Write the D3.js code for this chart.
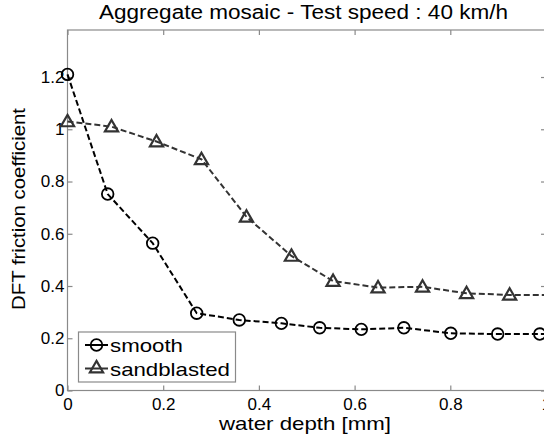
<!DOCTYPE html>
<html><head><meta charset="utf-8">
<script src="https://cdn.jsdelivr.net/npm/d3@7"></script>
<style>body{margin:0;background:#fff;}svg{display:block;font-family:"Liberation Sans",Arial,sans-serif;}</style>
</head><body>
<svg id="c" width="544" height="441"></svg>
<script>
const title = "Aggregate mosaic - Test speed : 40 km/h";
const xLabel = "water depth [mm]";
const yLabel = "DFT friction coefficient";
const xTicks = [0, 0.2, 0.4, 0.6, 0.8, 1];
const xTickLabels = ["0", "0.2", "0.4", "0.6", "0.8", "1"];
const yTicks = [0, 0.2, 0.4, 0.6, 0.8, 1, 1.2];
const yTickLabels = ["0", "0.2", "0.4", "0.6", "0.8", "1", "1.2"];
const smoothX = [0, 0.084, 0.178, 0.27, 0.359, 0.447, 0.527, 0.614, 0.703, 0.801, 0.899, 0.987, 1.08];
const smoothY = [1.21, 0.752, 0.564, 0.296, 0.27, 0.257, 0.240, 0.234, 0.240, 0.219, 0.216, 0.216, 0.216];
const sandX = [0, 0.092, 0.186, 0.28, 0.374, 0.468, 0.555, 0.649, 0.742, 0.834, 0.924, 1.014];
const sandY = [1.03, 1.01, 0.953, 0.885, 0.665, 0.515, 0.419, 0.394, 0.397, 0.372, 0.366, 0.365];
const seriesNames = ["smooth", "sandblasted"];

const L = 67.5, R = 546, T = 30, B = 390.5;
const svg = d3.select("#c");
const x = d3.scaleLinear().domain([0, 1]).range([L, R]);
const y = d3.scaleLinear().domain([0, 1.38]).range([B, T]);
const axisCol = "#8a8a8a";

svg.append("rect").attr("x", L).attr("y", T).attr("width", R - L).attr("height", B - T)
  .attr("fill", "none").attr("stroke", axisCol).attr("stroke-width", 1.2);

const gx = svg.append("g").attr("transform", `translate(0,${B})`)
  .call(d3.axisBottom(x).tickValues(xTicks).tickFormat((d, i) => xTickLabels[i]).tickSizeInner(-5).tickSizeOuter(0).tickPadding(7));
const gxt = svg.append("g").attr("transform", `translate(0,${T})`)
  .call(d3.axisTop(x).tickValues(xTicks).tickFormat("").tickSizeInner(-5).tickSizeOuter(0));
const gy = svg.append("g").attr("transform", `translate(${L},0)`)
  .call(d3.axisLeft(y).tickValues(yTicks).tickFormat((d, i) => yTickLabels[i]).tickSizeInner(-5).tickSizeOuter(0).tickPadding(3));
const gyr = svg.append("g").attr("transform", `translate(${R},0)`)
  .call(d3.axisRight(y).tickValues(yTicks).tickFormat("").tickSizeInner(-5).tickSizeOuter(0));
[gx, gxt, gy, gyr].forEach(g => {
  g.select(".domain").remove();
  g.selectAll(".tick line").attr("stroke", axisCol).attr("stroke-width", 1.2);
  g.selectAll("text").attr("fill", "#000").attr("font-size", 17).attr("font-family", "Liberation Sans, Arial, sans-serif");
});

svg.append("text").attr("x", 303.5).attr("y", 18.5).attr("text-anchor", "middle").attr("font-size", 19.5)
  .attr("textLength", 409).attr("lengthAdjust", "spacingAndGlyphs").text(title);
svg.append("text").attr("x", 305).attr("y", 430).attr("text-anchor", "middle").attr("font-size", 18.5)
  .attr("textLength", 172).attr("lengthAdjust", "spacingAndGlyphs").text(xLabel);
svg.append("text").attr("transform", "translate(25,209) rotate(-90)").attr("text-anchor", "middle").attr("font-size", 17.5)
  .attr("textLength", 202).attr("lengthAdjust", "spacingAndGlyphs").text(yLabel);

const line = d3.line().x(d => x(d[0])).y(d => y(d[1]));
const smooth = smoothX.map((v, i) => [v, smoothY[i]]);
const sand = sandX.map((v, i) => [v, sandY[i]]);
const tri = d3.symbol().type(d3.symbolTriangle).size(75);

svg.append("path").datum(sand).attr("d", line).attr("fill", "none").attr("stroke", "#333").attr("stroke-width", 2).attr("stroke-dasharray", "6,3");
svg.append("path").datum(smooth).attr("d", line).attr("fill", "none").attr("stroke", "#000").attr("stroke-width", 2).attr("stroke-dasharray", "6,3");

svg.selectAll(".tri").data(sand).join("path").attr("class", "tri")
  .attr("transform", d => `translate(${x(d[0])},${y(d[1]) + 1})`).attr("d", tri)
  .attr("fill", "none").attr("stroke", "#333").attr("stroke-width", 2.2);
svg.selectAll(".circ").data(smooth).join("circle").attr("class", "circ")
  .attr("cx", d => x(d[0])).attr("cy", d => y(d[1])).attr("r", 5.8)
  .attr("fill", "none").attr("stroke", "#000").attr("stroke-width", 1.8);

const lg = svg.append("g");
lg.append("rect").attr("x", 78.5).attr("y", 332).attr("width", 157).attr("height", 50)
  .attr("fill", "#fff").attr("stroke", axisCol).attr("stroke-width", 1.2);
const rows = [{y: 345, col: "#000", t: "c", base: 352, len: 73}, {y: 368.5, col: "#333", t: "t", base: 376, len: 120}];
rows.forEach((r, i) => {
  lg.append("line").attr("x1", 85).attr("x2", 108).attr("y1", r.y).attr("y2", r.y).attr("stroke", r.col).attr("stroke-width", 2);
  if (r.t === "c") lg.append("circle").attr("cx", 96.5).attr("cy", r.y).attr("r", 5.8).attr("fill", "none").attr("stroke", r.col).attr("stroke-width", 1.8);
  else lg.append("path").attr("transform", `translate(96.5,${r.y})`).attr("d", tri).attr("fill", "none").attr("stroke", r.col).attr("stroke-width", 2.2);
  lg.append("text").attr("x", 110).attr("y", r.base).attr("font-size", 19)
    .attr("textLength", r.len).attr("lengthAdjust", "spacingAndGlyphs").text(seriesNames[i]);
});
</script>
</body></html>
